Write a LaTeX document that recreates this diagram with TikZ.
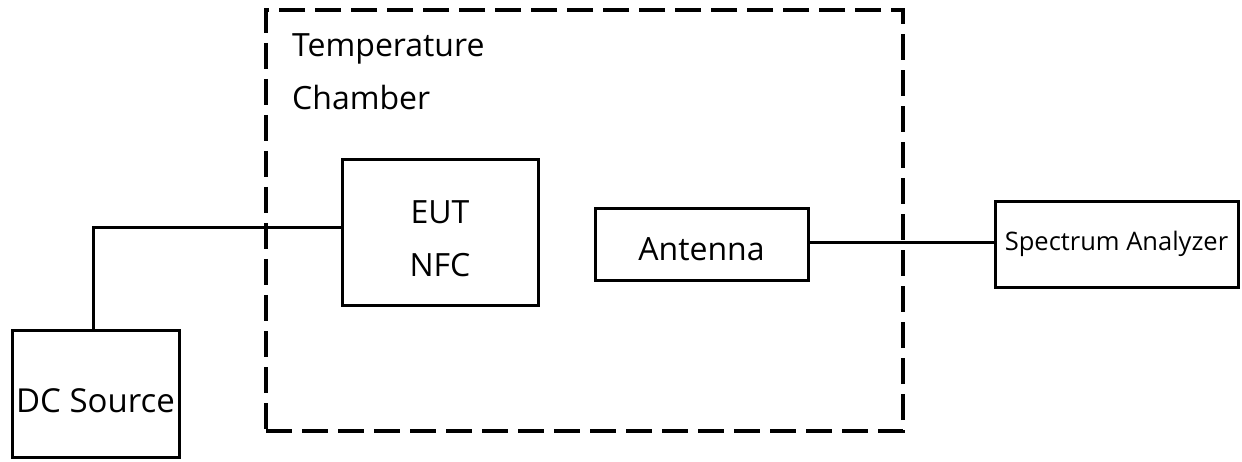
\documentclass[tikz,border=0pt]{standalone}
\usepackage{fontspec}
\setmainfont{Open Sans}
\usetikzlibrary{calc}
\begin{document}
\begin{tikzpicture}[x=1pt,y=-1pt,
  blockbox/.style={draw=black, line width=3pt, fill=white, inner sep=0pt},
  wire/.style={draw=black, line width=3pt},
  bigtext/.style={font=\fontsize{32}{53}\selectfont, inner sep=0pt, align=center},
  dctext/.style={font=\fontsize{33}{40}\selectfont, inner sep=0pt},
  smalltext/.style={font=\fontsize{25.5}{30}\selectfont, inner sep=0pt}]
\useasboundingbox (0,0) rectangle (1242,462);
\fill[white] (0,0) rectangle (1242,462);

% temperature chamber outline
\node[draw=black, line width=3.5pt, dash pattern=on 26pt off 10pt,
      minimum width=637pt, minimum height=421pt, inner sep=0pt]
      (chamber) at (584.5,220.5) {};
\node[bigtext, anchor=north west, align=left, text depth=0pt]
      (chlabel) at (292,33) {Temperature\\Chamber};

% equipment blocks
\node[blockbox, minimum width=196pt, minimum height=146pt] (eut) at (440,233) {};
\node[bigtext] (euttext) at ([yshift=-6pt]eut.center) {EUT\\NFC};
\node[blockbox, minimum width=213pt, minimum height=72pt] (ant) at (701.5,245) {};
\node[bigtext] (anttext) at ([yshift=-4pt]ant.center) {Antenna};
\node[blockbox, minimum width=243pt, minimum height=86pt] (sa) at (1116.5,245) {};
\node[smalltext] (satext) at ([yshift=1pt]sa.center) {Spectrum Analyzer};
\node[blockbox, minimum width=167pt, minimum height=127pt] (dc) at (95.5,393.5) {};
\node[dctext] (dctxt) at ([yshift=-7pt]dc.center) {DC Source};

% cabling
\coordinate (dcup) at (93,330);
\coordinate (antout) at ($(ant.north east)!0.47!(ant.south east)$);
\draw[wire] (dcup) |- ($(eut.north west)!0.466!(eut.south west)$);
\draw[wire] (antout) -- (antout -| sa.west);
\end{tikzpicture}
\end{document}
